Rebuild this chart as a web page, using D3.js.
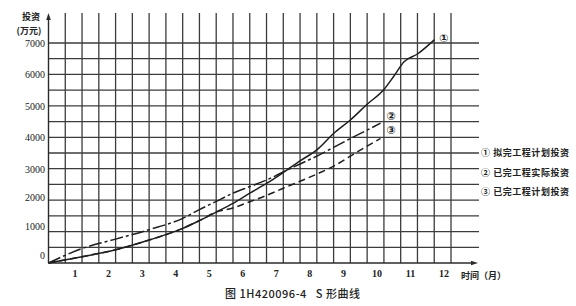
<!DOCTYPE html>
<html>
<head>
<meta charset="utf-8">
<script src="https://cdn.jsdelivr.net/npm/d3@7"></script>
<style>
  body { margin: 0; background: #fff; }
  svg { display: block; }
  .cjk { font-family: "Noto Sans CJK SC", sans-serif; }
  .num { font-family: "Liberation Serif", serif; }
</style>
</head>
<body>
<div id="chart"></div>
<script>
// data (month, investment in 万元)
let months = [1, 2, 3, 4, 5, 6, 7, 8, 9, 10, 11, 12];
let yTicks = [0, 1000, 2000, 3000, 4000, 5000, 6000, 7000];

let plannedMonth = [0, 1, 2, 3, 4, 4.5, 5, 5.5, 6, 6.5, 7, 7.5, 8, 8.5, 9, 9.5, 10, 10.3, 10.6, 11, 11.5];
let plannedValue = [0, 200, 420, 730, 1100, 1350, 1620, 1900, 2220, 2530, 2880, 3250, 3600, 4120, 4550, 5050, 5520, 5950, 6400, 6650, 7100];

let actualMonth = [0, 1, 2, 3, 4, 4.5, 5, 5.5, 6, 6.5, 7, 7.5, 8, 8.5, 9, 9.5, 9.9];
let actualValue = [0, 460, 760, 1060, 1420, 1700, 1960, 2220, 2430, 2640, 2900, 3150, 3400, 3680, 3960, 4230, 4450];

let earnedMonth = [0, 1, 2, 3, 4, 4.5, 5, 5.5, 6, 6.5, 7, 7.5, 8, 8.5, 9, 9.5, 9.9];
let earnedValue = [0, 200, 420, 730, 1100, 1350, 1620, 1750, 1950, 2150, 2380, 2600, 2830, 3080, 3400, 3720, 3960];

let legendLabels = ["① 拟完工程计划投资", "② 已完工程实际投资", "③ 已完工程计划投资"];

let width = 576, height = 306;

let svg = d3.select("#chart")
  .append("svg")
    .attr("width", width)
    .attr("height", height);

let x = d3.scaleLinear().domain([0, 12]).range([48.5, 451]);
let y = d3.scaleLinear().domain([0, 7000]).range([263, 43]);
// the printed value labels drift above their grid lines near the bottom
let yLabel = d3.scaleLinear().domain([0, 3000, 7000]).range([255, 169, 43]);

let ink = "#2b2b2b";

// grid
let grid = svg.append("g").attr("stroke", "#3c3c3c").attr("stroke-width", 1.3);
grid.selectAll("line.v")
  .data(d3.range(0.5, 12.01, 0.5))
  .enter().append("line")
    .attr("x1", d => x(d)).attr("x2", d => x(d))
    .attr("y1", 13).attr("y2", 263);
grid.selectAll("line.h")
  .data(d3.range(500, 7001, 500))
  .enter().append("line")
    .attr("x1", 48).attr("x2", 479)
    .attr("y1", d => y(d)).attr("y2", d => y(d));

// axes
svg.append("line").attr("x1", 48.5).attr("x2", 48.5).attr("y1", 18).attr("y2", 263)
  .attr("stroke", ink).attr("stroke-width", 1.4);
svg.append("path").attr("d", "M48.5,13 L46.2,20 L50.8,20 Z").attr("fill", ink);
svg.append("line").attr("x1", 48.5).attr("x2", 472).attr("y1", 263).attr("y2", 263)
  .attr("stroke", ink).attr("stroke-width", 1.4);
svg.append("path").attr("d", "M478,263 L471,260.7 L471,265.3 Z").attr("fill", ink);

// y labels
svg.append("g").attr("class", "num")
  .selectAll("text")
  .data(yTicks)
  .enter().append("text")
    .attr("x", 45)
    .attr("y", d => yLabel(d))
    .attr("dy", "0.35em")
    .attr("text-anchor", "end")
    .attr("font-size", 10)
    .attr("fill", "#222")
    .text(d => d);

// x labels
svg.append("g").attr("class", "num")
  .selectAll("text")
  .data(months)
  .enter().append("text")
    .attr("x", d => x(d) - 7)
    .attr("y", 277)
    .attr("text-anchor", "middle")
    .attr("font-size", 10)
    .attr("font-weight", "bold")
    .attr("fill", "#222")
    .text(d => d);

// axis titles
svg.append("text").attr("class", "cjk").attr("x", 31).attr("y", 20)
  .attr("text-anchor", "middle").attr("font-size", 9).attr("font-weight", "bold")
  .attr("fill", "#222").text("投资");
svg.append("text").attr("class", "cjk").attr("x", 29).attr("y", 34)
  .attr("text-anchor", "middle").attr("font-size", 9).attr("font-weight", "bold")
  .attr("fill", "#222").text("(万元)");
svg.append("text").attr("class", "cjk").attr("x", 461).attr("y", 279)
  .attr("font-size", 9).attr("font-weight", "bold")
  .attr("fill", "#222").text("时间（月）");

// curves
let line = d3.line()
  .x(d => x(d[0]))
  .y(d => y(d[1]))
  .curve(d3.curveMonotoneX);

let series = [
  { pts: d3.zip(plannedMonth, plannedValue), dash: null, tag: "①", dx: 5, dy: -2 },
  { pts: d3.zip(actualMonth, actualValue), dash: "13,3,3,3", tag: "②", dx: 6, dy: -7 },
  { pts: d3.zip(earnedMonth, earnedValue), dash: "7,4", tag: "③", dx: 6, dy: -8 }
];

series.forEach(s => {
  svg.append("path")
    .attr("d", line(s.pts))
    .attr("fill", "none")
    .attr("stroke", "#1e1e1e")
    .attr("stroke-width", 1.5)
    .attr("stroke-dasharray", s.dash);
  let last = s.pts[s.pts.length - 1];
  svg.append("text")
    .attr("x", x(last[0]) + s.dx)
    .attr("y", y(last[1]) + s.dy)
    .attr("dy", "0.35em")
    .attr("font-family", "DejaVu Sans, sans-serif")
    .attr("font-size", 11)
    .attr("font-weight", "bold")
    .attr("fill", "#222")
    .text(s.tag);
});

// legend
svg.append("g").attr("class", "cjk")
  .selectAll("text")
  .data(legendLabels)
  .enter().append("text")
    .attr("x", 481)
    .attr("y", (d, i) => 153 + i * 19.5)
    .attr("dy", "0.35em")
    .attr("font-size", 9)
    .attr("font-weight", "bold")
    .attr("textLength", 88)
    .attr("lengthAdjust", "spacing")
    .attr("fill", "#222")
    .text(d => d);

// caption
svg.append("text").attr("class", "cjk").attr("x", 225).attr("y", 298)
  .attr("font-size", 11).attr("font-weight", 500).attr("fill", "#222")
  .attr("textLength", 135)
  .attr("lengthAdjust", "spacing")
  .attr("xml:space", "preserve")
  .text("图 1H420096-4   S 形曲线");
</script>
</body>
</html>
